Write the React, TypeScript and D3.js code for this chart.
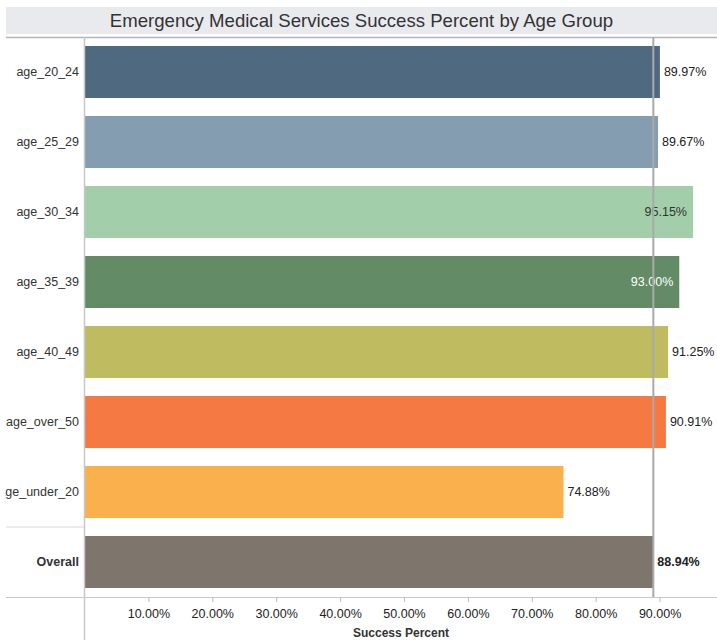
import React from "react";
import * as d3 from "d3";

const categories = ["age_20_24", "age_25_29", "age_30_34", "age_35_39", "age_40_49", "age_over_50", "age_under_20", "Overall"];
const values = [0.8997, 0.8967, 0.9515, 0.93, 0.9125, 0.9091, 0.7488, 0.8894];
const colors = ["#4f6980", "#849db1", "#a2ceaa", "#638b66", "#bfbb60", "#f47942", "#fbb04e", "#7e756d"];
const tickValues = [0.1, 0.2, 0.3, 0.4, 0.5, 0.6, 0.7, 0.8, 0.9];
const referenceValue = 0.8894;
const title = "Emergency Medical Services Success Percent by Age Group";
const axisTitle = "Success Percent";

const W = 717;
const H = 640;
const FONT = "'Liberation Sans', Arial, sans-serif";

export default function App() {
  const left = 85;
  const top = 37;
  const bottom = 597;
  const x = d3.scaleLinear().domain([0, 1]).range([left, left + 639]);
  const y = d3
    .scaleBand<string>()
    .domain(categories)
    .range([top, bottom])
    .paddingInner(18 / 70)
    .paddingOuter(9 / 70);
  const bw = y.bandwidth();
  const gap = y.step() - bw;
  const fmt = d3.format(".2%");
  const labelW = 42;
  const fs = 12.5;

  return (
    <svg
      width={W}
      height={H}
      style={{ position: "absolute", left: 0, top: 0, display: "block", background: "#fff" }}
      fontFamily={FONT}
    >
      <defs>
        <clipPath id="leftcol">
          <rect x={5} y={top} width={left - 5} height={bottom - top} />
        </clipPath>
      </defs>
      {/* title band */}
      <rect x={6} y={7} width={W - 6} height={27} fill="#e9eaee" />
      <text x={(6 + W) / 2} y={27} textAnchor="middle" fontSize={18.6} fill="#333">
        {title}
      </text>
      <line x1={6} x2={W} y1={37.5} y2={37.5} stroke="#b5b5b5" strokeWidth={1.5} />

      {/* bars */}
      {categories.map((c, i) => {
        const v = values[i];
        const y0 = y(c)!;
        const xe = x(v);
        const inside = xe + 4 + labelW > W;
        const light = d3.hsl(colors[i]).l > 0.6;
        const isOverall = c === "Overall";
        return (
          <g key={c}>
            <rect x={left} y={y0} width={xe - left} height={bw} fill={colors[i]} />
            <text
              x={inside ? xe - 6 : xe + 4}
              y={y0 + bw / 2}
              dy="0.35em"
              textAnchor={inside ? "end" : "start"}
              fontSize={fs}
              fontWeight={isOverall ? "bold" : "normal"}
              fill={inside ? (light ? "#333" : "#fff") : "#222"}
            >
              {fmt(v)}
            </text>
          </g>
        );
      })}

      {/* category labels */}
      <g clipPath="url(#leftcol)">
        {categories.map((c) => (
          <text
            key={c}
            x={left - 6}
            y={y(c)! + bw / 2}
            dy="0.35em"
            textAnchor="end"
            fontSize={fs}
            fontWeight={c === "Overall" ? "bold" : "normal"}
            fill="#333"
          >
            {c}
          </text>
        ))}
      </g>
      <line
        x1={6}
        x2={left}
        y1={y("Overall")! - gap / 2}
        y2={y("Overall")! - gap / 2}
        stroke="#d9d9d9"
        strokeWidth={1}
      />

      {/* reference line */}
      <line x1={x(referenceValue)} x2={x(referenceValue)} y1={top} y2={bottom} stroke="#aaa" strokeWidth={2} />

      {/* axis */}
      <line x1={6} x2={W} y1={bottom + 0.5} y2={bottom + 0.5} stroke="#c8c8c8" strokeWidth={1} />
      <line x1={left - 0.5} x2={left - 0.5} y1={top} y2={H} stroke="#c8c8c8" strokeWidth={1.5} />
      {tickValues.map((t) => (
        <g key={t}>
          <line x1={x(t)} x2={x(t)} y1={bottom} y2={bottom + 5} stroke="#bbb" />
          <text x={x(t)} y={bottom + 21} textAnchor="middle" fontSize={fs} fill="#222">
            {fmt(t)}
          </text>
        </g>
      ))}
      <text x={(left + W) / 2} y={H - 3} textAnchor="middle" fontSize={12} fontWeight="bold" fill="#333">
        {axisTitle}
      </text>
    </svg>
  );
}
